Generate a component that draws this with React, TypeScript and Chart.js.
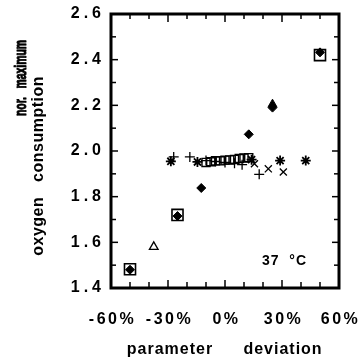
import React, { useEffect, useRef } from 'react';
import { Chart, registerables } from 'chart.js';

Chart.register(...registerables);

// ---- data ----
const diamondX = [-50, -25, -12.5, 12.5, 25, 50];
const diamondY = [1.48, 1.715, 1.838, 2.073, 2.19, 2.432];

const bigSquareX = [-50, -25, 50];
const bigSquareY = [1.482, 1.72, 2.42];

const smallSquareX = [-10, -7.5, -5, -2.5, 0, 2.5, 5, 7.5, 10, 12.5];
const smallSquareY = [1.95, 1.953, 1.957, 1.957, 1.96, 1.961, 1.963, 1.967, 1.969, 1.971];

const openTriX = [-37.5];
const openTriY = [1.58];

const filledTriX = [25];
const filledTriY = [2.205];

const starX = [-28.5, -14.5, 14, 29, 42.5];
const starY = [1.955, 1.952, 1.962, 1.958, 1.958];

const plusX = [-27, -18.5, -10, -5, 0, 5, 9, 18];
const plusY = [1.974, 1.974, 1.958, 1.954, 1.95, 1.946, 1.94, 1.898];

const crossX = [15.5, 22.8, 30.7];
const crossY = [1.944, 1.922, 1.908];

const xTickValues = [-60, -30, 0, 30, 60];
const xTickLabels = ['-60%', '-30%', '0%', '30%', '60%'];
const xMinorValues = [-50, -40, -20, -10, 10, 20, 40, 50];

const yTickValues = [1.4, 1.6, 1.8, 2.0, 2.2, 2.4, 2.6];
const yTickLabels = ['1.4', '1.6', '1.8', '2.0', '2.2', '2.4', '2.6'];
const yMinorValues = [1.5, 1.7, 1.9, 2.1, 2.3, 2.5];

const xTitleWords = ['parameter', 'deviation'];
const yTitleLine1 = ['nor.', 'maximum'];
const yTitleLine2 = 'oxygen   consumption';
const tempLabel = '37  \u00B0C';

const FONT = '"Liberation Sans", Arial, sans-serif';

const pts = (xs: number[], ys: number[]) => xs.map((x, i) => ({ x, y: ys[i] }));

const spacingPlugin = {
  id: 'spacing',
  beforeLayout(chart: any) {
    (chart.ctx as any).letterSpacing = '4px';
  },
  beforeDraw(chart: any) {
    const ctx = chart.ctx;
    ctx.save();
    ctx.fillStyle = '#fff';
    ctx.fillRect(0, 0, chart.width, chart.height);
    ctx.restore();
    (ctx as any).letterSpacing = '4px';
  },
};

const framePlugin = {
  id: 'frame',
  afterDraw(chart: any) {
    const ctx = chart.ctx as CanvasRenderingContext2D;
    const { left, right, top, bottom } = chart.chartArea;
    const xs = chart.scales.x;
    const ys = chart.scales.y;
    ctx.save();
    (ctx as any).letterSpacing = '0px';
    ctx.strokeStyle = '#000';
    ctx.lineCap = 'butt';
    // inward ticks
    ctx.lineWidth = 1.5;
    const tick = (x1: number, y1: number, x2: number, y2: number) => {
      ctx.beginPath();
      ctx.moveTo(x1, y1);
      ctx.lineTo(x2, y2);
      ctx.stroke();
    };
    xTickValues.forEach((v) => {
      const px = xs.getPixelForValue(v);
      tick(px, bottom, px, bottom - 8);
      tick(px, top, px, top + 8);
    });
    xMinorValues.forEach((v) => {
      const px = xs.getPixelForValue(v);
      tick(px, bottom, px, bottom - 6);
      tick(px, top, px, top + 5);
    });
    yTickValues.forEach((v) => {
      const py = ys.getPixelForValue(v);
      tick(left, py, left + 7, py);
      tick(right, py, right - 7, py);
    });
    yMinorValues.forEach((v) => {
      const py = ys.getPixelForValue(v);
      tick(left, py, left + 5, py);
      tick(right, py, right - 5, py);
    });
    // frame
    ctx.lineWidth = 3;
    ctx.strokeRect(left, top, right - left, bottom - top);

    ctx.fillStyle = '#000';

    // x tick labels
    ctx.font = 'bold 16px ' + FONT;
    (ctx as any).letterSpacing = '2.5px';
    ctx.textAlign = 'center';
    ctx.textBaseline = 'alphabetic';
    xTickValues.forEach((v, i) => {
      const px = xs.getPixelForValue(v);
      ctx.fillText(xTickLabels[i], px + 1.5, 323.5);
    });

    // x title
    (ctx as any).letterSpacing = '1px';
    ctx.fillText(xTitleWords[0], left + 59, 354);
    ctx.fillText(xTitleWords[1], left + 172, 354);

    // y title (rotated)
    const drawRot = (text: string, x: number, y: number, sx: number, thicken: number) => {
      ctx.save();
      ctx.translate(x, y);
      ctx.rotate(-Math.PI / 2);
      ctx.scale(sx, 1);
      ctx.textAlign = 'right';
      ctx.textBaseline = 'alphabetic';
      ctx.fillText(text, 0, 0);
      if (thicken > 0) {
        ctx.lineWidth = thicken;
        ctx.lineJoin = 'round';
        ctx.strokeText(text, 0, 0);
      }
      ctx.restore();
    };
    (ctx as any).letterSpacing = '0px';
    ctx.font = 'bold 16px ' + FONT;
    drawRot(yTitleLine1[1], 26, top + 26, 0.65, 1);
    drawRot(yTitleLine1[0], 26, top + 83, 0.65, 1);
    (ctx as any).letterSpacing = '0.5px';
    drawRot(yTitleLine2, 43, top + 62, 1, 0);

    // temperature label
    ctx.font = 'bold 14px ' + FONT;
    (ctx as any).letterSpacing = '1px';
    ctx.textAlign = 'left';
    ctx.fillText(tempLabel, left + 151, 265);
    ctx.restore();
  },
};

export default function App() {
  const ref = useRef<HTMLCanvasElement | null>(null);

  useEffect(() => {
    if (!ref.current) return;
    const chart = new Chart(ref.current, {
      type: 'scatter',
      data: {
        datasets: [
          {
            label: 'diamond',
            data: pts(diamondX, diamondY),
            pointStyle: 'rectRot',
            pointRadius: 4.5,
            backgroundColor: '#000',
            borderColor: '#000',
            borderWidth: 1,
          },
          {
            label: 'filled triangle',
            data: pts(filledTriX, filledTriY),
            pointStyle: 'triangle',
            pointRadius: 5,
            backgroundColor: '#000',
            borderColor: '#000',
            borderWidth: 1,
          },
          {
            label: 'big square',
            data: pts(bigSquareX, bigSquareY),
            pointStyle: 'rect',
            pointRadius: 7.8,
            backgroundColor: '#fff',
            borderColor: '#000',
            borderWidth: 1.6,
          },
          {
            label: 'open triangle',
            data: pts(openTriX, openTriY),
            pointStyle: 'triangle',
            pointRadius: 5,
            backgroundColor: '#fff',
            borderColor: '#000',
            borderWidth: 1.3,
          },
          {
            label: 'star',
            data: pts(starX, starY),
            pointStyle: 'star',
            pointRadius: 5,
            backgroundColor: '#000',
            borderColor: '#000',
            borderWidth: 1.8,
          },
          {
            label: 'plus',
            data: pts(plusX, plusY),
            pointStyle: 'cross',
            pointRadius: 5,
            borderColor: '#000',
            borderWidth: 1.3,
          },
          {
            label: 'x',
            data: pts(crossX, crossY),
            pointStyle: 'crossRot',
            pointRadius: 5,
            borderColor: '#000',
            borderWidth: 1.3,
          },
          {
            label: 'small square',
            data: pts(smallSquareX, smallSquareY),
            pointStyle: 'rect',
            pointRadius: 5.7,
            backgroundColor: 'rgba(255,255,255,0)',
            borderColor: '#000',
            borderWidth: 1.4,
          },
        ],
      },
      options: {
        animation: false,
        responsive: false,
        devicePixelRatio: 1,
        layout: { padding: { top: 14, right: 19, left: 0, bottom: 0 } },
        plugins: {
          legend: { display: false },
          tooltip: { enabled: false },
          title: { display: false },
        },
        scales: {
          x: {
            type: 'linear',
            min: -60,
            max: 60,
            grid: { display: false, drawTicks: false },
            border: { display: false },
            afterBuildTicks: (s: any) => {
              s.ticks = xTickValues.map((v) => ({ value: v }));
            },
            afterFit: (s: any) => {
              s.height = 74;
              s.paddingLeft = 0;
              s.paddingRight = 0;
            },
            ticks: {
              display: false,
              autoSkip: false,
              maxRotation: 0,
              callback: (_v: any, i: number) => xTickLabels[i],
            },
          },
          y: {
            type: 'linear',
            min: 1.4,
            max: 2.6,
            grid: { display: false, drawTicks: false },
            border: { display: false },
            afterBuildTicks: (s: any) => {
              s.ticks = yTickValues.map((v) => ({ value: v }));
            },
            afterFit: (s: any) => {
              s.width = 111;
              s.paddingTop = 0;
              s.paddingBottom = 0;
            },
            ticks: {
              autoSkip: false,
              padding: 6,
              color: '#000',
              font: { family: FONT, size: 16, weight: 'bold' },
              callback: (_v: any, i: number) => yTickLabels[i],
            },
          },
        },
      },
      plugins: [spacingPlugin, framePlugin],
    });
    return () => chart.destroy();
  }, []);

  return (
    <div style={{ position: 'absolute', left: 0, top: 0, width: 358, height: 362, background: '#fff' }}>
      <canvas ref={ref} width={358} height={362} style={{ width: 358, height: 362, display: 'block' }} />
    </div>
  );
}
